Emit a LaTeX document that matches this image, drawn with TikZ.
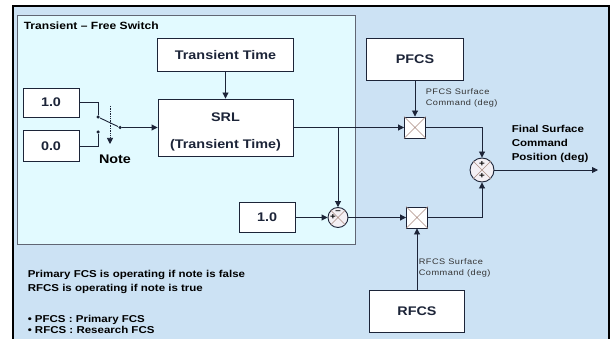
\documentclass[tikz,border=0pt]{standalone}
\usepackage{fontspec}
\setmainfont{Liberation Sans}[FakeStretch=1.15]
\newfontfamily\lblfont{Liberation Sans}[FakeStretch=1.15,LetterSpace=6]
\usetikzlibrary{arrows.meta,positioning}
\definecolor{bgblue}{RGB}{204,226,244}
\definecolor{inbox}{RGB}{226,250,255}
\definecolor{ln}{RGB}{28,36,56}
\definecolor{xln}{RGB}{170,140,130}
\definecolor{sumfill}{RGB}{244,240,244}

\begin{document}
\begin{tikzpicture}[x=1pt, y=-1pt, line width=0.9pt, color=ln,
  box/.style={draw=ln, fill=white, inner sep=0pt, align=center, font=\fontsize{12.5}{15}\selectfont\bfseries},
  mul/.style={draw=ln, fill=white, minimum size=21pt, inner sep=0pt},
  sum/.style={draw=ln, fill=sumfill, circle, inner sep=0pt},
  swdot/.style={circle, fill=ln, inner sep=0pt, minimum size=3.5pt},
  arr/.style={-{Triangle[length=6pt,width=6pt]}},
  sign/.style={font=\fontsize{8.5}{8.5}\selectfont\bfseries, inner sep=0pt, text=black},
  lbl/.style={font=\lblfont\fontsize{8}{11}\selectfont, align=left, text=black!80},
  note/.style={font=\fontsize{10}{14}\selectfont\bfseries, align=left, text=black}]
\useasboundingbox (0,0) rectangle (612,339);
% background and frames
\fill[bgblue] (13,6) rectangle (609,339);
\draw[black, line width=2pt] (13,339) -- (13,6) -- (609,6) -- (609,339);
\draw[fill=inbox, draw=ln!70, line width=0.8pt] (17,15) rectangle (355,244);
\node[anchor=west, font=\fontsize{10.5}{12}\selectfont\bfseries, text=black] (ttl) at (20,25.5) {Transient \textendash{} Free Switch};

% blocks
\node[box, minimum width=135pt, minimum height=57pt] (srl) at (225.5,127.5) {\rule{0pt}{18pt}SRL\\[12pt](Transient Time)};
\node[box, minimum width=136pt, minimum height=33pt, above=27pt of srl] (trt) {Transient Time};
\node[box, minimum width=56pt, minimum height=29pt] (one) at (51,102.5) {1.0};
\node[box, minimum width=56pt, minimum height=31pt, below=13pt of one] (zero) {0.0};
\node[box, minimum width=56pt, minimum height=30pt] (oneb) at (267,217.5) {1.0};
\node[sum, minimum size=20pt] (isum) at (338,217.5) {};
\node[mul] (pmul) at (415,127.5) {};
\node[mul] (rmul) at (417,217.5) {};
\node[box, minimum width=97pt, minimum height=42pt] (pfcs) at (415,59) {PFCS};
\node[box, minimum width=95pt, minimum height=42pt] (rfcs) at (417,311) {RFCS};
\node[sum, minimum size=24pt] (fsum) at (482,170) {};
\coordinate (out) at (598,170);

% switch
\node[swdot] (sa) at (98,117) {};
\node[swdot] (sb) at (98,132) {};
\node[swdot] (sc) at (120,127.5) {};
\coordinate (nta) at (110,106);
\coordinate (ntb) at (110,144);
\node[font=\fontsize{12.5}{15}\selectfont\bfseries, text=black] (note) at (115,159) {Note};
\draw (one.east) -| (sa);
\draw (zero.east) -| (sb);
\draw (sa) -- (sc);
\draw[arr] (sc) -- (srl.west);
\draw[densely dotted, line width=0.7pt, arr] (nta) -- (ntb);

% connectors
\draw[arr] (trt) -- (srl);
\draw[arr] (srl.east) -- (pmul.west);
\draw[arr] (srl.east -| isum.north) -- (isum.north);
\draw[arr] (oneb) -- (isum);
\draw[arr] (isum) -- (rmul);
\draw[arr] (pfcs) -- (pmul);
\draw[arr] (rfcs) -- (rmul);
\draw[arr] (pmul.east) -| (fsum.north);
\draw[arr] (rmul.east) -| (fsum.south);
\draw[arr] (fsum) -- (out);

% crosses in the junctions
\foreach \n in {pmul,rmul,isum,fsum}
  \draw[xln, line width=0.6pt] (\n.north west) -- (\n.south east) (\n.north east) -- (\n.south west);
\node[sign] (isumm) at ([yshift=5pt]isum.center) {\textendash};
\node[sign] (isump) at ([xshift=-5pt]isum.center) {+};
\node[sign] (fsumt) at ([yshift=6pt]fsum.center) {+};
\node[sign] (fsumb) at ([yshift=-6pt]fsum.center) {+};

% labels
\node[lbl, anchor=west] (plbl) at (422,97.5) {PFCS Surface\\Command (deg)};
\node[lbl, anchor=west] (rlbl) at (415,268) {RFCS Surface\\Command (deg)};
\node[note, anchor=west] (fin) at (508,144) {Final Surface\\Command\\Position (deg)};
\node[note, anchor=west] (op) at (24,282) {Primary FCS is operating if note is false\\RFCS is operating if note is true};
\node[note, anchor=west, font=\fontsize{10}{11}\selectfont\bfseries] (abbr) at (24,324.5) {\textbullet\ PFCS : Primary FCS\\\textbullet\ RFCS : Research FCS};
\end{tikzpicture}
\end{document}
